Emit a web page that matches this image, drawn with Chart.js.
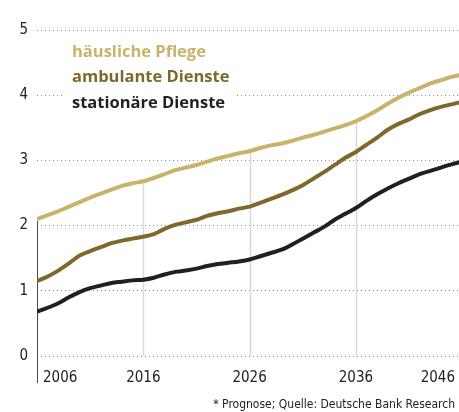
<!DOCTYPE html>
<html>
<head>
<meta charset="utf-8">
<script src="https://cdn.jsdelivr.net/npm/chart.js@4"></script>
<style>
  html, body { margin: 0; padding: 0; background: #fff; overflow: hidden; }
  #wrap { width: 459px; height: 412px; }
</style>
</head>
<body>
<div id="wrap"><canvas id="pflegeChart" width="459" height="412"></canvas></div>
<script>
// Jahre 2006 - 2046 (Prognose), Werte in Mio.
const years = [2006, 2007, 2008, 2009, 2010, 2011, 2012, 2013, 2014, 2015,
               2016, 2017, 2018, 2019, 2020, 2021, 2022, 2023, 2024, 2025,
               2026, 2027, 2028, 2029, 2030, 2031, 2032, 2033, 2034, 2035,
               2036, 2037, 2038, 2039, 2040, 2041, 2042, 2043, 2044, 2045, 2046];

const haeuslichePflege = [2.10, 2.16, 2.22, 2.29, 2.36, 2.43, 2.49, 2.55, 2.61, 2.65,
                          2.68, 2.73, 2.79, 2.85, 2.89, 2.93, 2.98, 3.03, 3.07, 3.11,
                          3.14, 3.19, 3.23, 3.26, 3.30, 3.35, 3.39, 3.44, 3.49, 3.54,
                          3.60, 3.68, 3.77, 3.87, 3.96, 4.04, 4.11, 4.18, 4.23, 4.28, 4.32];

const ambulanteDienste = [1.15, 1.22, 1.31, 1.42, 1.54, 1.61, 1.67, 1.73, 1.77, 1.80,
                          1.83, 1.87, 1.95, 2.01, 2.05, 2.09, 2.15, 2.19, 2.22, 2.26,
                          2.29, 2.35, 2.41, 2.47, 2.54, 2.62, 2.72, 2.82, 2.93, 3.04,
                          3.13, 3.24, 3.35, 3.47, 3.56, 3.63, 3.71, 3.77, 3.82, 3.86, 3.90];

const stationaereDienste = [0.68, 0.74, 0.81, 0.90, 0.98, 1.04, 1.08, 1.12, 1.14, 1.16,
                            1.17, 1.20, 1.25, 1.29, 1.31, 1.34, 1.38, 1.41, 1.43, 1.45,
                            1.48, 1.53, 1.58, 1.63, 1.71, 1.80, 1.89, 1.98, 2.09, 2.18,
                            2.27, 2.38, 2.48, 2.57, 2.65, 2.72, 2.79, 2.84, 2.89, 2.94, 2.98];

const xTickYears = [2006, 2016, 2026, 2036, 2046];
const yTicks = [0, 1, 2, 3, 4, 5];
const seriesNames = ['häusliche Pflege', 'ambulante Dienste', 'stationäre Dienste'];
const seriesColors = ['#c8b36b', '#7e682b', '#231f20'];
const sourceNote = '* Prognose; Quelle: Deutsche Bank Research';

const narrow = '"DejaVu Sans Condensed", "Liberation Sans Narrow", sans-serif';

function toPoints(values) {
    return values.map((v, i) => ({ x: years[i], y: v }));
}

// Vertical guides: from the top curve down to the baseline
const guidePlugin = {
    id: 'guides',
    beforeDatasetsDraw(chart) {
        const ctx = chart.ctx;
        const xs = chart.scales.x;
        const ys = chart.scales.y;
        const area = chart.chartArea;

        ctx.save();
        xTickYears.forEach((yr, n) => {
            const i = years.indexOf(yr);
            if (i < 0) return;
            const px = Math.round(xs.getPixelForValue(yr)) + 0.5;
            if (px > area.right) return;
            const top = ys.getPixelForValue(haeuslichePflege[i]) + 2;
            ctx.beginPath();
            if (n === 0) {
                ctx.strokeStyle = '#4a4a4a';
                ctx.lineWidth = 1;
                ctx.moveTo(px, top);
                ctx.lineTo(px, area.bottom + 27);
            } else {
                ctx.strokeStyle = '#d9d9d9';
                ctx.lineWidth = 1.5;
                ctx.moveTo(px, top);
                ctx.lineTo(px, area.bottom);
            }
            ctx.stroke();
        });

        // legend block, masks the grid behind it
        ctx.fillStyle = '#fff';
        ctx.fillRect(63, 40, 174, 74);
        ctx.font = 'bold 16.5px "Open Sans", sans-serif';
        ctx.textAlign = 'left';
        ctx.textBaseline = 'middle';
        seriesNames.forEach((name, i) => {
            ctx.fillStyle = seriesColors[i];
            ctx.fillText(name, 72, 52 + i * 25.5);
        });
        ctx.restore();
    },
    afterDraw(chart) {
        const ctx = chart.ctx;
        const xs = chart.scales.x;
        const area = chart.chartArea;

        ctx.save();
        ctx.fillStyle = '#222';
        ctx.font = '15px ' + narrow;
        ctx.textBaseline = 'middle';
        xTickYears.forEach((yr, n) => {
            let px = xs.getPixelForValue(yr);
            if (n === 0) {
                ctx.textAlign = 'left';
                px += 6;
            } else if (n === xTickYears.length - 1) {
                ctx.textAlign = 'right';
                px = area.right - 4;
            } else {
                ctx.textAlign = 'center';
            }
            ctx.fillText(String(yr), px, area.bottom + 22);
        });

        ctx.font = '12px ' + narrow;
        ctx.textAlign = 'right';
        ctx.fillText(sourceNote, area.right - 4, 405);
        ctx.restore();
    }
};

new Chart(document.getElementById('pflegeChart'), {
    type: 'line',
    data: {
        datasets: [
            { label: seriesNames[0], data: toPoints(haeuslichePflege), borderColor: seriesColors[0] },
            { label: seriesNames[1], data: toPoints(ambulanteDienste), borderColor: seriesColors[1] },
            { label: seriesNames[2], data: toPoints(stationaereDienste), borderColor: seriesColors[2] }
        ]
    },
    options: {
        responsive: false,
        animation: false,
        devicePixelRatio: 1,
        layout: { padding: { top: 30, right: 0, bottom: 56, left: 0 } },
        elements: {
            point: { radius: 0 },
            line: { borderWidth: 4, tension: 0.4, cubicInterpolationMode: 'monotone', borderCapStyle: 'butt' }
        },
        plugins: {
            legend: { display: false },
            tooltip: { enabled: false }
        },
        scales: {
            x: {
                type: 'linear',
                display: false,
                min: 2006,
                max: 2045.7
            },
            y: {
                min: 0,
                max: 5,
                afterFit(scale) { scale.width = 37; },
                afterBuildTicks(scale) { scale.ticks = yTicks.map(v => ({ value: v })); },
                border: { display: false, dash: [1, 3] },
                grid: {
                    color: '#8c8c8c',
                    lineWidth: 1,
                    drawTicks: false
                },
                ticks: {
                    padding: 9,
                    color: '#222',
                    font: { family: narrow, size: 15 }
                }
            }
        }
    },
    plugins: [guidePlugin]
});
</script>
</body>
</html>
